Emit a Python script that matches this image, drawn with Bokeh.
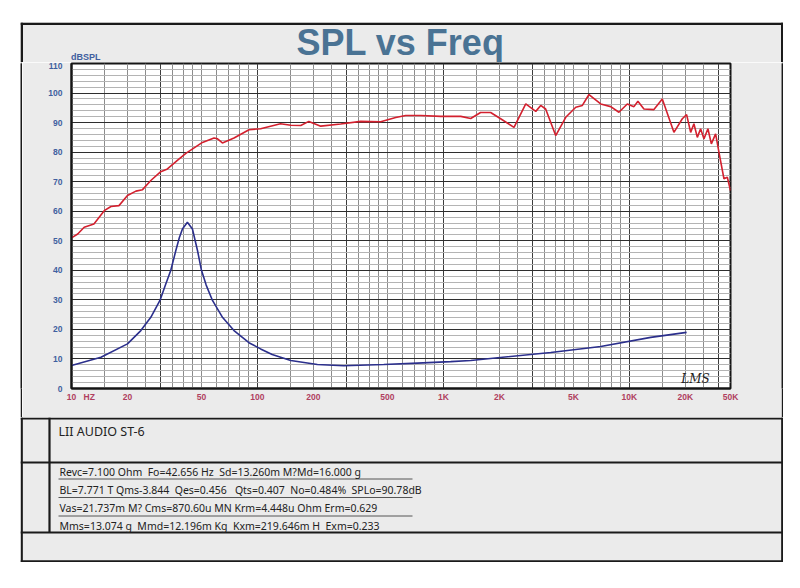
from bokeh.plotting import figure
from bokeh.models import Range1d, FixedTicker, Spacer
from bokeh.layouts import column, row
from bokeh.core.properties import value
from bokeh.embed import file_html
from bokeh.resources import INLINE

# ---------------- data ----------------
spl_freq = [10, 10.8, 11.7, 13.2, 15.0, 16.3, 18.0, 20.0, 22.2, 24.1, 26.7, 30.2, 32.8, 37.1,
            41.2, 50.6, 58.4, 61.0, 64.8, 74.8, 90.1, 104, 133, 151, 171, 189, 219, 280, 359,
            460, 554, 627, 755, 967, 1240, 1403, 1585, 1795, 2032, 2398, 2773, 3140, 3337,
            3548, 4018, 4550, 5152, 5590, 6067, 7015, 7943, 8790, 9750, 10590, 11120, 11980,
            13560, 15040, 17370, 19270, 20330, 21370, 22250, 23210, 24170, 25190, 26470,
            27610, 29110, 30330, 32270, 33650, 35000]
spl_db = [51.0, 52.3, 54.6, 55.7, 60.2, 61.6, 61.9, 65.3, 66.8, 67.3, 70.4, 73.4, 74.3, 77.2,
          79.6, 83.3, 84.8, 84.5, 83.1, 84.8, 87.6, 87.9, 89.6, 89.1, 89.0, 90.4, 88.8, 89.5,
          90.4, 90.3, 91.7, 92.4, 92.4, 92.1, 92.1, 91.4, 93.4, 93.4, 91.3, 88.4, 96.3, 93.8,
          95.8, 94.6, 85.6, 91.8, 95.2, 95.8, 99.5, 96.3, 95.4, 93.5, 96.3, 95.4, 97.2, 94.6,
          94.4, 98.0, 86.7, 91.3, 92.7, 86.7, 89.6, 85.0, 87.9, 84.5, 87.9, 82.8, 86.2, 80.0,
          71.0, 71.5, 67.0]

imp_freq = [10, 14.4, 20, 23.6, 26.7, 29.9, 32, 34.2, 36.4, 38, 39.5, 42.0, 44.7, 47.6, 50,
            53, 57.3, 65, 74.8, 90, 104, 120, 151, 210, 291, 478, 725, 1094, 1403, 3780,
            7015, 13030, 20330]
imp_ohm = [7.8, 10.6, 15.1, 19.6, 24.1, 29.8, 35.0, 40.0, 46.7, 51.0, 54.0, 56.3, 54.0, 46.7,
           40.0, 35.0, 29.8, 24.0, 19.6, 15.5, 13.4, 11.5, 9.5, 8.1, 7.7, 8.1, 8.6, 9.1, 9.5,
           12.2, 14.2, 17.3, 19.0]

x_tick_values = [10, 12.46, 20, 50, 100, 200, 500, 1000, 2000, 5000, 10000, 20000, 35000]
x_tick_labels = ["10", "HZ", "20", "50", "100", "200", "500", "1K", "2K", "5K", "10K", "20K", "50K"]
y_tick_values = [0, 10, 20, 30, 40, 50, 60, 70, 80, 90, 100, 110]

title_text = "SPL vs Freq"
y_unit_text = "dBSPL"
signature_text = "LMS"
model_name = "LII AUDIO ST-6"
param_rows = [
    "Revc=7.100 Ohm  Fo=42.656 Hz  Sd=13.260m M?Md=16.000 g",
    "BL=7.771 T Qms-3.844  Qes=0.456   Qts=0.407  No=0.484%  SPLo=90.78dB",
    "Vas=21.737m M? Cms=870.60u MN Krm=4.448u Ohm Erm=0.629",
    "Mms=13.074 g  Mmd=12.196m Kg  Kxm=219.646m H  Exm=0.233",
]

GRAY = "#ebebeb"
INK = "#1a1a1a"
BOX_W = 763


def deco_fig(w, h):
    f = figure(width=w, height=h, x_range=Range1d(0, w), y_range=Range1d(h, 0),
               output_backend="svg", toolbar_location=None, min_border=0,
               x_axis_location=None, y_axis_location=None)
    f.grid.visible = False
    f.outline_line_color = None
    f.background_fill_color = GRAY
    f.border_fill_color = GRAY
    return f


# ---------------- header (title) ----------------
ph = deco_fig(BOX_W, 40)
ph.text(x=[380], y=[19.5], text=[title_text], text_font=value("Liberation Sans"),
        text_font_style="bold", text_font_size="36px", text_color="#4a7394",
        text_align="center", text_baseline="middle")
ph.text(x=[50.5], y=[34], text=[y_unit_text], text_font=value("Liberation Sans"),
        text_font_style="bold", text_font_size="9px", text_color="#3f5f9f",
        text_align="left", text_baseline="middle")
ph.segment(x0=[0, 1.25, BOX_W - 1.25], y0=[1.25, 0, 0], x1=[BOX_W, 1.25, BOX_W - 1.25],
           y1=[1.25, 40, 40], line_color=INK, line_width=2.5)

# ---------------- chart ----------------
p = figure(width=BOX_W - 4, height=355, x_axis_type="log",
           x_range=Range1d(10, 35000), y_range=Range1d(0, 110),
           output_backend="svg", toolbar_location=None,
           min_border_left=49, min_border_right=51, min_border_top=1, min_border_bottom=29)
p.border_fill_color = GRAY
p.background_fill_color = "white"
p.outline_line_color = "#151515"
p.outline_line_width = 2

minor_x = []
for d in [10, 100, 1000, 10000]:
    for m in [1.5, 2, 2.5, 3.5, 4, 4.5, 5, 6, 7, 8, 9]:
        if m * d <= 35000:
            minor_x.append(m * d)
p.xgrid.ticker = FixedTicker(ticks=[10, 30, 100, 300, 1000, 3000, 10000, 30000], minor_ticks=minor_x)
p.xgrid.grid_line_color = "#3c3c3c"
p.xgrid.grid_line_width = 1
p.xgrid.minor_grid_line_color = "#8c8c8c"
p.xgrid.minor_grid_line_width = 1

p.yaxis.ticker = FixedTicker(ticks=y_tick_values, minor_ticks=list(range(0, 111, 2)))
p.ygrid.grid_line_color = "#2e2e2e"
p.ygrid.grid_line_width = 1
p.ygrid.minor_grid_line_color = "#b4b4b4"
p.ygrid.minor_grid_line_width = 1

p.xaxis.ticker = FixedTicker(ticks=x_tick_values)
p.xaxis.major_label_overrides = {v: t for v, t in zip(x_tick_values, x_tick_labels)}
for ax in (p.xaxis[0], p.yaxis[0]):
    ax.axis_line_color = "#151515"
    ax.axis_line_width = 2
    ax.major_tick_line_color = None
    ax.minor_tick_line_color = None
    ax.major_tick_out = 0
    ax.major_tick_in = 0
    ax.major_label_text_font = "Liberation Sans"
    ax.major_label_text_font_style = "bold"
    ax.major_label_text_font_size = "8.5px"
p.xaxis.major_label_text_color = "#b0405f"
p.xaxis.major_label_standoff = 3
p.yaxis.major_label_text_color = "#3f5f9f"
p.yaxis.major_label_standoff = 5

p.line(imp_freq, imp_ohm, line_color="#2b2f8c", line_width=1.6)
p.line(spl_freq, spl_db, line_color="#d3202e", line_width=1.6)
p.text(x=[19000], y=[3.2], text=[signature_text], text_font=value("DejaVu Serif"),
       text_font_style="italic", text_font_size="12px", text_color="#222222",
       text_align="left", text_baseline="middle")


def side_bar():
    f = figure(width=2, height=355, output_backend="svg", toolbar_location=None,
               min_border=0, x_axis_location=None, y_axis_location=None)
    f.grid.visible = False
    f.outline_line_color = None
    f.background_fill_color = INK
    f.border_fill_color = INK
    return f


# ---------------- parameter table ----------------
NBSP = "\u00a0"
rows_shown = [r.replace(" ", NBSP) for r in param_rows]

pt = deco_fig(BOX_W, 145)
pt.segment(x0=[0, 0, 0, 0, 1.25, BOX_W - 1.25, 29],
           y0=[1, 45, 115, 143.75, 0, 0, 0],
           x1=[BOX_W, BOX_W, BOX_W, BOX_W, 1.25, BOX_W - 1.25, 29],
           y1=[1, 45, 115, 143.75, 145, 145, 115],
           line_color=INK, line_width=2.2)
pt.segment(x0=[38, 38, 38], y0=[61.5, 80, 98.5], x1=[392, 392, 392], y1=[61.5, 80, 98.5],
           line_color="#555555", line_width=1)
pt.text(x=[38], y=[14], text=[model_name], text_font=value("Noto Sans"),
        text_font_size="12.5px", text_color="#222222", text_align="left", text_baseline="middle")
pt.text(x=[39] * 4, y=[54.5, 72.5, 90.5, 108], text=rows_shown, text_font=value("Noto Sans"),
        text_font_size="10.5px", text_color="#222222", text_align="left", text_baseline="middle")

box = column(ph, row(side_bar(), p, side_bar()), pt)
page = column(Spacer(width=800, height=22), row(Spacer(width=20, height=540), box))

open("out.html", "w").write(file_html(page, INLINE))
